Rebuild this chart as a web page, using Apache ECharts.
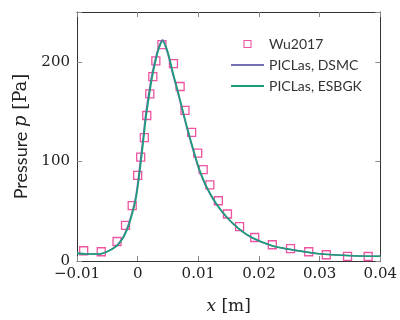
<!DOCTYPE html>
<html>
<head>
<meta charset="utf-8">
<script src="https://cdn.jsdelivr.net/npm/echarts@6/dist/echarts.min.js"></script>
<style>html,body{margin:0;padding:0;background:#fff;}#c{width:400px;height:320px;}</style>
</head>
<body>
<div id="c"></div>
<script>
// Reference data (Wu2017)
const wuX = [-0.0089, -0.0060, -0.0034, -0.0020, -0.0009, 0.0000, 0.0005, 0.0011, 0.0015, 0.0020, 0.0025, 0.0030, 0.0040, 0.0059, 0.0070, 0.0078, 0.0089, 0.0099, 0.0108, 0.0119, 0.0133, 0.0148, 0.0168, 0.0193, 0.0222, 0.0252, 0.0282, 0.0311, 0.0346, 0.0380];
const wuP = [10.3, 9.3, 19.6, 35.7, 55.6, 86.0, 104.2, 123.9, 146.1, 167.7, 185.1, 200.9, 217.3, 198.1, 175.2, 151.3, 129.1, 108.4, 91.7, 76.5, 60.5, 47.2, 34.6, 23.6, 16.3, 12.5, 9.3, 6.3, 4.7, 4.5];
// Simulation curves
const simX = [-0.0100, -0.00795, -0.00633, -0.00471, -0.00336, -0.00281, -0.00227, -0.00146, -0.00054, -0.00016, 0.00021, 0.00049, 0.00086, 0.00135, 0.00200, 0.00244, 0.00308, 0.00357, 0.00411, 0.00471, 0.00519, 0.00576, 0.00666, 0.00747, 0.00828, 0.00925, 0.01018, 0.01125, 0.01287, 0.0145, 0.01667, 0.01883, 0.02208, 0.02451, 0.02987, 0.03539, 0.0400];
const dsmcP = [7.7, 7.0, 7.0, 10.4, 16.0, 20.3, 25.5, 37.6, 58, 70.5, 88, 102.8, 121.8, 148.5, 174.5, 189.8, 206.8, 216.3, 222, 212.8, 203, 188.5, 168.1, 148.6, 129.7, 108.8, 90.6, 75, 57.8, 45, 32.3, 23.4, 15.4, 12.2, 7.3, 5.2, 4.7];
const esbgkP = [7.7, 7.0, 7.0, 10.3, 15.5, 19.5, 24.5, 36, 55.5, 67, 83, 97, 116, 143, 170, 186, 204, 214.5, 220.6, 214.5, 205, 190.5, 170, 150.5, 131.5, 110.5, 92, 76, 58.5, 45.5, 32.6, 23.6, 15.5, 12.3, 7.3, 5.2, 4.7];
const xTicks = { min: -0.01, max: 0.04, interval: 0.01 };
const yTicks = { min: 0, max: 250, interval: 100 };
const names = ['Wu2017', 'PICLas, DSMC', 'PICLas, ESBGK'];

const zip = (xs, ys) => xs.map((x, i) => [x, ys[i]]);
const serif = 'DejaVu Serif';
const sans = 'Lato';
const frame = '#333';
const tickCol = '#888';

const xFmt = v => { const r = Math.round(v * 100) / 100; return r < 0 ? '\u2212' + Math.abs(r) : String(r); };
const yFmt = v => (v === 250 ? '' : String(v));

const baseX = {
  type: 'value', min: xTicks.min, max: xTicks.max, interval: xTicks.interval,
  splitLine: { show: false },
  axisLine: { show: true, onZero: false, lineStyle: { color: frame, width: 1 } },
  axisTick: { show: true, inside: true, length: 5, lineStyle: { color: tickCol } }
};
const baseY = {
  type: 'value', min: yTicks.min, max: yTicks.max, interval: yTicks.interval,
  splitLine: { show: false },
  axisLine: { show: true, onZero: false, lineStyle: { color: frame, width: 1 } },
  axisTick: { show: true, inside: true, length: 5, lineStyle: { color: tickCol } }
};
const hidden = { color: 'rgba(0,0,0,0)', borderColor: 'rgba(0,0,0,0)', borderWidth: 0 };

const chart = echarts.init(document.getElementById('c'), null, { renderer: 'canvas' });
chart.setOption({
  animation: false,
  backgroundColor: '#fff',
  grid: { left: 77, right: 15, top: 12, bottom: 58 },
  legend: {
    orient: 'vertical', left: 225, top: 32, itemWidth: 33, itemHeight: 9, itemGap: 7,
    textStyle: { fontFamily: sans, fontSize: 14, color: '#333' },
    data: [
      { name: names[0], icon: 'path://M0,0M33,9M13,1h7v7h-7z', itemStyle: { color: 'rgba(255,255,255,0)', borderColor: '#e7298a', borderWidth: 1.1 } },
      { name: names[1], itemStyle: hidden },
      { name: names[2], itemStyle: hidden }
    ]
  },
  xAxis: [
    Object.assign({}, baseX, {
      position: 'bottom',
      name: '{i|x}{c| [m]}', nameLocation: 'middle', nameGap: 37,
      nameTextStyle: { rich: {
        i: { fontFamily: serif, fontStyle: 'italic', fontSize: 17, color: '#222' },
        c: { fontFamily: serif, fontSize: 17, color: '#222' } } },
      axisLabel: { formatter: xFmt, fontFamily: serif, fontSize: 15, color: '#222', margin: 6 }
    }),
    Object.assign({}, baseX, { position: 'top', axisLabel: { show: false } })
  ],
  yAxis: [
    Object.assign({}, baseY, {
      position: 'left',
      name: '{a|Pressure }{i|p}{c| [Pa]}', nameLocation: 'middle', nameGap: 47,
      nameTextStyle: { rich: {
        a: { fontFamily: sans, fontSize: 18, color: '#222' },
        i: { fontFamily: serif, fontStyle: 'italic', fontSize: 18, color: '#222' },
        c: { fontFamily: serif, fontSize: 18, color: '#222' } } },
      axisLabel: { formatter: yFmt, fontFamily: serif, fontSize: 15, color: '#222', margin: 7 }
    }),
    Object.assign({}, baseY, { position: 'right', axisLabel: { show: false } })
  ],
  series: [
    {
      name: names[0], type: 'scatter', xAxisIndex: 0, yAxisIndex: 0,
      data: zip(wuX, wuP), symbol: 'rect', symbolSize: 8,
      itemStyle: { color: 'rgba(255,255,255,0)', borderColor: '#e7298a', borderWidth: 1.3 },
      z: 2
    },
    {
      name: names[1], type: 'line', xAxisIndex: 0, yAxisIndex: 0,
      data: zip(simX, dsmcP), symbol: 'none', smooth: 0.3,
      lineStyle: { color: '#7570b3', width: 1.6 }, itemStyle: { color: '#7570b3' }, z: 3
    },
    {
      name: names[2], type: 'line', xAxisIndex: 0, yAxisIndex: 0,
      data: zip(simX, esbgkP), symbol: 'none', smooth: 0.3,
      lineStyle: { color: '#1b9e77', width: 1.6 }, itemStyle: { color: '#1b9e77' }, z: 4
    }
  ]
});
</script>
</body>
</html>
